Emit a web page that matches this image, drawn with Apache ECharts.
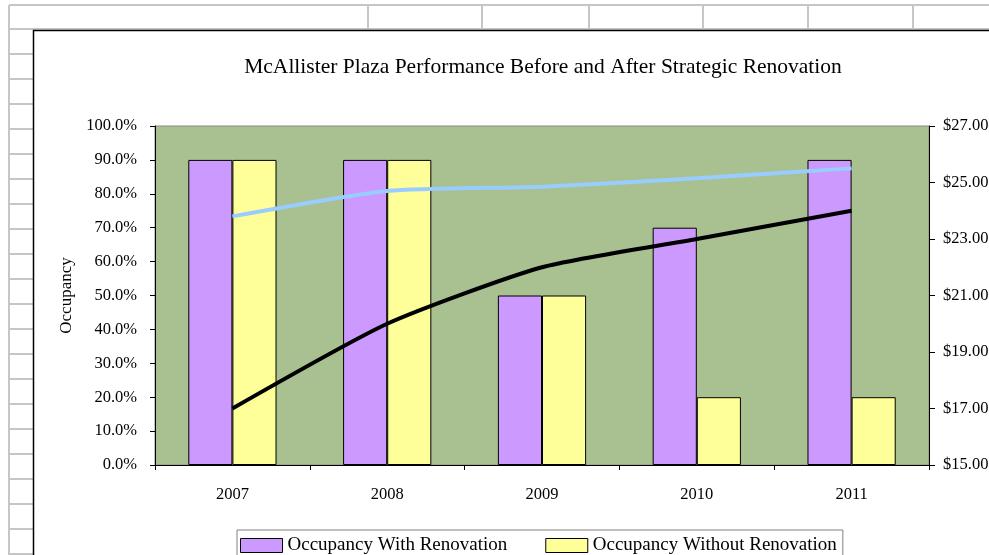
<!DOCTYPE html>
<html>
<head>
<meta charset="utf-8">
<script src="https://cdn.jsdelivr.net/npm/echarts@6/dist/echarts.min.js"></script>
<style>
html,body{margin:0;padding:0;background:#fff;}
#c{width:989px;height:555px;}
</style>
</head>
<body>
<div id="c"></div>
<script>
const years = ['2007','2008','2009','2010','2011'];
const occWith = [90, 90, 50, 70, 90];
const occWithout = [90, 90, 50, 20, 20];
const rentWith = [23.8, 24.7, 24.85, 25.15, 25.5];
const rentWithout = [17.0, 20.0, 22.0, 23.0, 24.0];

const serif = '"Liberation Serif", "Times New Roman", serif';
const gridColor = '#c6c6c6';

const g = [];
// Excel sheet gridlines
g.push({type:'line', z:-20, shape:{x1:9,y1:5,x2:989,y2:5}, style:{stroke:gridColor,lineWidth:2}});
g.push({type:'line', z:-20, shape:{x1:9,y1:29,x2:989,y2:29}, style:{stroke:gridColor,lineWidth:2}});
g.push({type:'line', z:-20, shape:{x1:9,y1:5,x2:9,y2:555}, style:{stroke:gridColor,lineWidth:2}});
[368,482,589,703,808,913].forEach(x=>g.push({type:'line', z:-20, shape:{x1:x,y1:5,x2:x,y2:29}, style:{stroke:gridColor,lineWidth:2}}));
for(let y=54; y<=555; y+=25){
  g.push({type:'line', z:-20, shape:{x1:9,y1:y,x2:33,y2:y}, style:{stroke:gridColor,lineWidth:2}});
}
// chart area
g.push({type:'rect', z:-15, shape:{x:33.5,y:30.5,width:1000,height:600}, style:{fill:'#fff',stroke:'#000',lineWidth:1.5}});

const chart = echarts.init(document.getElementById('c'));
chart.setOption({
  animation:false,
  backgroundColor:'transparent',
  graphic: g,
  title:{
    text:'McAllister Plaza Performance Before and After Strategic Renovation',
    left:538, top:51, textAlign:'center',
    textStyle:{fontFamily:serif,fontSize:21.5,fontWeight:'normal',color:'#000'}
  },
  legend:{
    data:['Occupancy With Renovation','Occupancy Without Renovation'],
    left:237, top:530, itemWidth:42, itemHeight:14, itemGap:38, icon:'rect',
    padding:[6,6,12,3],
    itemStyle:{borderColor:'#000',borderWidth:1},
    backgroundColor:'#fff', borderColor:'#808080', borderWidth:1,
    textStyle:{fontFamily:serif,fontSize:19,color:'#000'}
  },
  grid:{left:155, top:126, right:60, bottom:90, containLabel:false, outerBoundsMode:'none',
        show:true, backgroundColor:'#a9c191', borderColor:'#8a8a8a', borderWidth:1},
  xAxis:{
    type:'category', data:years,
    axisLine:{lineStyle:{color:'#000',width:1}},
    axisTick:{show:true, inside:false, length:5, lineStyle:{color:'#000'}},
    axisLabel:{fontFamily:serif,fontSize:16.5,color:'#000',margin:21}
  },
  yAxis:[
    {type:'value', min:0, max:100, interval:10, name:'Occupancy', nameLocation:'middle', nameGap:80,
     nameTextStyle:{fontFamily:serif,fontSize:17,color:'#000'},
     axisLine:{show:true,lineStyle:{color:'#000'}},
     axisTick:{show:true,length:5,lineStyle:{color:'#000'}},
     splitLine:{show:false},
     axisLabel:{fontFamily:serif,fontSize:16.5,color:'#000',margin:18, formatter:v=>v.toFixed(1)+'%'}
    },
    {type:'value', min:15, max:27, interval:2, position:'right',
     axisLine:{show:true,lineStyle:{color:'#000'}},
     axisTick:{show:true,length:6,lineStyle:{color:'#000'}},
     splitLine:{show:false},
     axisLabel:{fontFamily:serif,fontSize:16.5,color:'#000',margin:14, formatter:v=>'$'+v.toFixed(2)}
    }
  ],
  series:[
    {name:'Occupancy With Renovation', type:'bar', data:occWith, barGap:'0%', barCategoryGap:'43%',
     itemStyle:{color:'#cc99ff', borderColor:'#000', borderWidth:1}},
    {name:'Occupancy Without Renovation', type:'bar', data:occWithout,
     itemStyle:{color:'#ffff99', borderColor:'#000', borderWidth:1}},
    {name:'Rent With Renovation', type:'line', yAxisIndex:1, data:rentWith, smooth:0.2, symbol:'none',
     lineStyle:{color:'#99ccff', width:4}, z:5},
    {name:'Rent Without Renovation', type:'line', yAxisIndex:1, data:rentWithout, smooth:0.2, symbol:'none',
     lineStyle:{color:'#000', width:4}, z:5}
  ]
});
</script>
</body>
</html>
